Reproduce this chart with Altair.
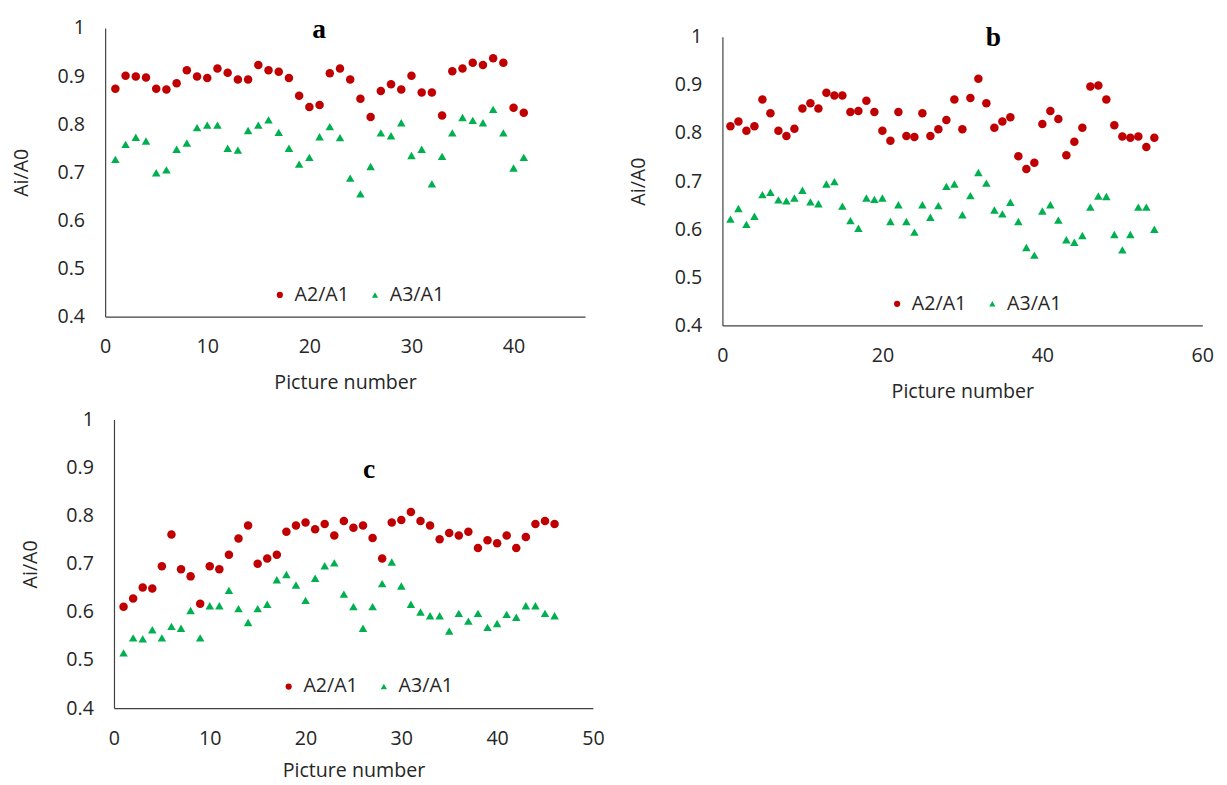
import altair as alt
import pandas as pd

# ---------------- data ----------------
series = ["A2/A1", "A3/A1"]

a_a2 = [0.874, 0.901, 0.899, 0.897, 0.874, 0.872, 0.885, 0.912, 0.899, 0.896,
        0.916, 0.907, 0.893, 0.893, 0.923, 0.912, 0.909, 0.896, 0.859, 0.836,
        0.840, 0.906, 0.916, 0.893, 0.853, 0.815, 0.869, 0.883, 0.872, 0.901,
        0.866, 0.866, 0.818, 0.910, 0.916, 0.928, 0.923, 0.937, 0.928, 0.834,
        0.824]
a_a3 = [0.727, 0.758, 0.773, 0.765, 0.699, 0.705, 0.748, 0.761, 0.793, 0.798,
        0.798, 0.750, 0.746, 0.787, 0.798, 0.809, 0.783, 0.750, 0.717, 0.731,
        0.774, 0.795, 0.772, 0.688, 0.655, 0.712, 0.782, 0.776, 0.803, 0.735,
        0.748, 0.676, 0.733, 0.782, 0.814, 0.808, 0.803, 0.831, 0.782, 0.709,
        0.731]

b_a2 = [0.814, 0.824, 0.805, 0.814, 0.870, 0.841, 0.805, 0.794, 0.809, 0.851,
        0.862, 0.851, 0.884, 0.878, 0.878, 0.844, 0.846, 0.867, 0.844, 0.805,
        0.784, 0.844, 0.794, 0.792, 0.841, 0.794, 0.808, 0.827, 0.870, 0.808,
        0.873, 0.913, 0.862, 0.811, 0.824, 0.833, 0.752, 0.725, 0.738, 0.819,
        0.846, 0.829, 0.754, 0.782, 0.811, 0.897, 0.899, 0.870, 0.816, 0.793,
        0.790, 0.793, 0.771, 0.790]
b_a3 = [0.621, 0.643, 0.610, 0.627, 0.672, 0.677, 0.661, 0.659, 0.665, 0.681,
        0.657, 0.653, 0.694, 0.699, 0.648, 0.618, 0.602, 0.665, 0.662, 0.665,
        0.616, 0.651, 0.616, 0.594, 0.651, 0.625, 0.649, 0.689, 0.694, 0.630,
        0.670, 0.718, 0.696, 0.640, 0.632, 0.656, 0.616, 0.562, 0.546, 0.638,
        0.651, 0.619, 0.578, 0.573, 0.587, 0.646, 0.669, 0.668, 0.589, 0.557,
        0.589, 0.646, 0.646, 0.600]

c_a2 = [0.611, 0.628, 0.651, 0.649, 0.695, 0.761, 0.689, 0.674, 0.617, 0.695,
        0.689, 0.719, 0.753, 0.780, 0.700, 0.711, 0.719, 0.767, 0.780, 0.786,
        0.772, 0.783, 0.759, 0.789, 0.775, 0.780, 0.754, 0.711, 0.786, 0.791,
        0.808, 0.789, 0.780, 0.751, 0.764, 0.759, 0.767, 0.733, 0.749, 0.743,
        0.759, 0.733, 0.756, 0.783, 0.789, 0.783]
c_a3 = [0.515, 0.546, 0.544, 0.563, 0.546, 0.570, 0.566, 0.603, 0.546, 0.613,
        0.613, 0.645, 0.607, 0.578, 0.607, 0.616, 0.667, 0.678, 0.656, 0.624,
        0.670, 0.696, 0.702, 0.637, 0.611, 0.566, 0.611, 0.659, 0.704, 0.654,
        0.616, 0.600, 0.592, 0.592, 0.560, 0.597, 0.581, 0.597, 0.568, 0.576,
        0.595, 0.589, 0.613, 0.613, 0.597, 0.592]

y_ticks = [0.4, 0.5, 0.6, 0.7, 0.8, 0.9, 1.0]

# ---------------- style ----------------
FONT = "Open Sans"
FS = 20
RED = "#C00000"
GREEN = "#00B050"
AXIS_COLOR = "#404040"
TEXT_COLOR = "#262626"

CELL_W = 497
CELL_H = 303


def make_df(a2, a3):
    rows = []
    for i, v in enumerate(a2):
        rows.append({"pic": i + 1, "val": v, "series": series[0]})
    for i, v in enumerate(a3):
        rows.append({"pic": i + 1, "val": v, "series": series[1]})
    return pd.DataFrame(rows)


def panel(a2, a3, letter, xmax, xstep, dx, dy, w, h, tx, ty, xtp=16):
    """dx, dy: offset of the plot area inside its grid cell."""
    df = make_df(a2, a3)
    leg = alt.Legend(
        orient="none", legendX=168 + dx, legendY=262 + dy, direction="horizontal",
        title=None, labelFont=FONT, labelFontSize=FS, labelColor=TEXT_COLOR,
        symbolSize=40, symbolStrokeWidth=0, labelOffset=5, columnPadding=16,
        padding=0,
    )
    pts = alt.Chart(df).mark_point(filled=True, opacity=1, size=75, strokeWidth=0).encode(
        x=alt.X("pic:Q",
                scale=alt.Scale(domain=[0, xmax], nice=False, zero=True, range=[dx, dx + w]),
                axis=alt.Axis(values=list(range(0, xmax + 1, xstep)),
                              title="Picture number", labelFlush=False,
                              titlePadding=xtp,
                              offset=-(CELL_H - dy - h))),
        y=alt.Y("val:Q",
                scale=alt.Scale(domain=[0.4, 1.0], nice=False, zero=False, range=[dy + h, dy]),
                axis=alt.Axis(values=y_ticks, format=".1~f", title="Ai/A0",
                              labelPadding=21, titlePadding=26, offset=-dx)),
        color=alt.Color("series:N", scale=alt.Scale(domain=series, range=[RED, GREEN]),
                        legend=leg),
        shape=alt.Shape("series:N", scale=alt.Scale(domain=series, range=["circle", "triangle-up"]),
                        legend=leg),
    )
    lbl = alt.Chart(pd.DataFrame({"t": [letter]})).mark_text(
        font="Liberation Serif", fontWeight="bold", fontSize=28,
        baseline="alphabetic", align="center", color="black",
    ).encode(text="t:N", x=alt.value(tx + dx), y=alt.value(ty + dy))
    return alt.layer(pts, lbl).properties(width=CELL_W, height=CELL_H)


pa = panel(a_a2, a_a3, "a", 47, 10, 0, 0, 489, 294, 218, 10)
pb = panel(b_a2, b_a3, "b", 60, 20, 0, 9, 489, 294, 276, 9)
pc = panel(c_a2, c_a3, "c", 50, 10, 9, 0, 488, 294, 260, 59, xtp=13)

chart = alt.concat(pa, pb, pc, columns=2, spacing={"row": 96, "column": 132}, bounds="flush") \
    .resolve_scale(x="independent", y="independent", color="independent", shape="independent") \
    .resolve_legend(color="independent", shape="independent") \
    .configure_view(stroke=None) \
    .configure_axis(
        grid=False, ticks=False, tickSize=0,
        domainColor=AXIS_COLOR, domainWidth=1.2,
        labelFont=FONT, labelFontSize=FS, labelColor=TEXT_COLOR,
        titleFont=FONT, titleFontSize=FS, titleFontWeight="normal", titleColor=TEXT_COLOR,
    ) \
    .configure_axisX(labelPadding=21) \
    .properties(background="white", padding={"left": 3, "top": 1, "right": 5, "bottom": 2})

chart.save("out.html", embed_options={"renderer": "svg", "actions": False})
